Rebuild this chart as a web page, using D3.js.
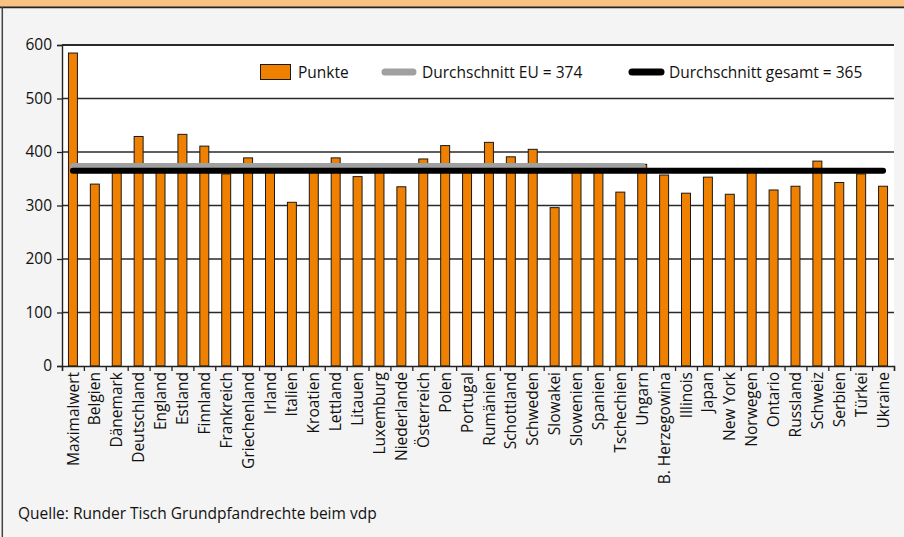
<!DOCTYPE html>
<html><head><meta charset="utf-8">
<script src="https://cdn.jsdelivr.net/npm/d3@7"></script>
<style>
html,body{margin:0;padding:0;background:#f4f4f4;}
svg{display:block;font-family:"Open Sans",sans-serif;}
</style></head>
<body>
<svg id="c" width="904" height="537"></svg>
<script>
const categories = ["Maximalwert","Belgien","Dänemark","Deutschland","England","Estland","Finnland","Frankreich","Griechenland","Irland","Italien","Kroatien","Lettland","Litauen","Luxemburg","Niederlande","Österreich","Polen","Portugal","Rumänien","Schottland","Schweden","Slowakei","Slowenien","Spanien","Tschechien","Ungarn","B. Herzegowina","Illinois","Japan","New York","Norwegen","Ontario","Russland","Schweiz","Serbien","Türkei","Ukraine"];
const punkte = [585,340,368,429,367,433,411,359,389,366,306,368,389,354,370,335,387,412,369,418,391,405,296,377,370,325,377,357,323,353,321,366,329,336,383,343,359,336];
const euCategories = categories.slice(0, 27);
const avgEU = 374;
const avgAll = 365;
const yTicks = [0,100,200,300,400,500,600];
const legendLabels = ["Punkte","Durchschnitt EU = 374","Durchschnitt gesamt = 365"];
const sourceText = "Quelle: Runder Tisch Grundpfandrechte beim vdp";

const svg = d3.select("#c");
const L = 62, R = 894, T = 45, B = 366;
const FS = 15.5;

// header band
svg.append("rect").attr("x",0).attr("y",0).attr("width",904).attr("height",7).attr("fill","#f9c183");
svg.append("line").attr("x1",0).attr("x2",904).attr("y1",7.4).attr("y2",7.4).attr("stroke","#222").attr("stroke-width",1.6);
svg.append("line").attr("x1",2.3).attr("x2",2.3).attr("y1",7).attr("y2",537).attr("stroke","#444").attr("stroke-width",1.5);

const x = d3.scaleBand().domain(categories).range([L,R]).paddingInner(0.59).paddingOuter(0.295);
const y = d3.scaleLinear().domain([0,600]).range([B,T]);

// plot area
svg.append("rect").attr("x",L).attr("y",T).attr("width",R-L).attr("height",B-T).attr("fill","#fff");

// gridlines
svg.append("g").selectAll("line").data(yTicks.filter(d=>d>0)).join("line")
  .attr("x1",L).attr("x2",R).attr("y1",d=>y(d)).attr("y2",d=>y(d))
  .attr("stroke","#2a2a2a").attr("stroke-width",d=>d===600?2:1.3);

// bars
svg.append("g").selectAll("rect").data(categories.map((c,i)=>({c,v:punkte[i]}))).join("rect")
  .attr("x",d=>x(d.c)).attr("y",d=>y(d.v)).attr("width",x.bandwidth()).attr("height",d=>y(0)-y(d.v))
  .attr("fill","#ef8000").attr("stroke","#1a1a1a").attr("stroke-width",1);

// average lines
const cx = c => x(c) + x.bandwidth()/2;
svg.append("line").attr("x1",cx(euCategories[0])).attr("x2",cx(euCategories[euCategories.length-1]))
  .attr("y1",y(avgEU)).attr("y2",y(avgEU)).attr("stroke","#a0a0a0").attr("stroke-width",6).attr("stroke-linecap","round");
svg.append("line").attr("x1",cx(categories[0])).attr("x2",cx(categories[categories.length-1]))
  .attr("y1",y(avgAll)).attr("y2",y(avgAll)).attr("stroke","#000").attr("stroke-width",6).attr("stroke-linecap","round");

// y axis
const ya = svg.append("g").attr("transform",`translate(${L},0)`)
  .call(d3.axisLeft(y).tickValues(yTicks).tickSize(5).tickPadding(5).tickFormat(d3.format("d")));
ya.select(".domain").attr("stroke","#222").attr("stroke-width",1.4);
ya.selectAll(".tick line").attr("stroke","#222").attr("stroke-width",1.3);
ya.selectAll("text").attr("font-size",FS).attr("font-family","'Open Sans',sans-serif").attr("fill","#111");

// x axis: boundary ticks
const xb = d3.scaleLinear().domain([0,categories.length]).range([L,R]);
const xa = svg.append("g").attr("transform",`translate(0,${B})`)
  .call(d3.axisBottom(xb).tickValues(d3.range(0,categories.length+1)).tickSize(5).tickFormat(""));
xa.select(".domain").attr("stroke","#222").attr("stroke-width",1.4);
xa.selectAll(".tick line").attr("stroke","#222").attr("stroke-width",1.3);

const xl = svg.append("g").attr("transform",`translate(0,${B})`)
  .call(d3.axisBottom(x).tickSize(0).tickPadding(0));
xl.select(".domain").remove();
xl.selectAll("text").attr("font-size",FS).attr("font-family","'Open Sans',sans-serif").attr("fill","#111")
  .attr("text-anchor","end").attr("transform","rotate(-90)").attr("x",-6).attr("y",0).attr("dy","0.36em");

// legend
const lg = svg.append("g");
lg.append("rect").attr("x",260.5).attr("y",64.5).attr("width",30).attr("height",15).attr("fill","#ef8000").attr("stroke","#1a1a1a").attr("stroke-width",1);
lg.append("text").attr("x",298).attr("y",72).attr("dy","0.36em").attr("font-size",FS).attr("fill","#111").text(legendLabels[0]);
lg.append("line").attr("x1",385).attr("x2",413).attr("y1",72).attr("y2",72).attr("stroke","#a0a0a0").attr("stroke-width",7).attr("stroke-linecap","round");
lg.append("text").attr("x",422).attr("y",72).attr("dy","0.36em").attr("font-size",FS).attr("fill","#111").text(legendLabels[1]);
lg.append("line").attr("x1",632).attr("x2",661).attr("y1",72).attr("y2",72).attr("stroke","#000").attr("stroke-width",7).attr("stroke-linecap","round");
lg.append("text").attr("x",669).attr("y",72).attr("dy","0.36em").attr("font-size",FS).attr("fill","#111").text(legendLabels[2]);

// source
svg.append("text").attr("x",18).attr("y",519).attr("font-size",FS).attr("fill","#111").text(sourceText);
</script>
</body></html>
